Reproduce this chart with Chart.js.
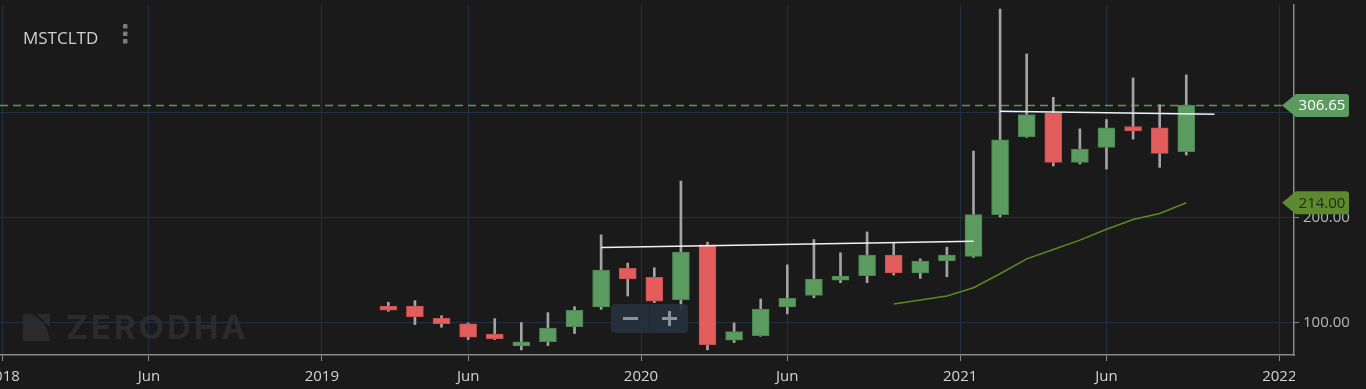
<!DOCTYPE html>
<html>
<head>
<meta charset="utf-8">
<title>MSTCLTD</title>
<script src="https://cdn.jsdelivr.net/npm/chart.js@4.4.0/dist/chart.umd.min.js"></script>
<style>
  html, body { margin: 0; padding: 0; background: #1a1a1a; overflow: hidden; }
  canvas { display: block; }
</style>
</head>
<body>
<canvas id="chart" width="1366" height="389"></canvas>
<script>
// months counted from Jan 2018 = 0
const candleMonths = [14, 15, 16, 17, 18, 19, 20, 21, 22, 23, 24, 25, 26, 27, 28, 29, 30, 31, 32, 33, 34, 35, 36, 37, 38, 39, 40, 41, 42, 43, 44];
const opens  = [115.8, 115.8, 104.2, 98.8, 89.0, 77.9, 82.0, 96.2, 114.9, 151.6, 143.1, 121.8, 174.0, 83.3, 87.7, 114.9, 126.0, 140.5, 144.6, 164.2, 147.4, 158.8, 163.0, 202.8, 276.9, 299.6, 252.5, 266.7, 286.6, 285.4, 262.6];
const highs  = [119.4, 120.9, 106.6, 99.7, 103.8, 100.0, 109.5, 115.2, 183.5, 156.6, 152.2, 234.7, 176.6, 99.7, 122.5, 155.0, 179.1, 166.4, 186.3, 175.9, 160.7, 171.8, 263.2, 398.3, 355.6, 314.4, 284.4, 293.3, 332.8, 307.2, 335.7];
const lows   = [110.8, 98.1, 95.6, 83.9, 83.9, 74.1, 78.2, 89.6, 112.7, 125.3, 119.0, 112.7, 74.1, 81.0, 87.0, 108.3, 123.7, 138.0, 138.0, 145.3, 142.1, 143.6, 162.0, 200.6, 276.2, 249.0, 250.9, 246.1, 274.6, 247.7, 259.4];
const closes = [111.8, 105.7, 99.1, 86.1, 84.8, 81.7, 94.7, 111.8, 150.0, 141.7, 120.3, 167.1, 79.1, 91.5, 113.0, 123.1, 141.5, 144.3, 164.2, 147.4, 158.5, 164.2, 202.8, 274.0, 298.0, 252.5, 265.1, 285.4, 282.5, 261.0, 306.65];

const smaMonths = [33, 34, 35, 36, 37, 38, 39, 40, 41, 42, 43, 44];
const smaValues = [117.7, 121.5, 125.3, 133.2, 146.5, 160.7, 169.6, 178.5, 188.9, 198.1, 203.8, 214.0];

// hand drawn trend lines on the chart
const trendOneMonths = [22, 36];
const trendOneValues = [171.5, 177.5];
const trendTwoMonths = [37, 45.06];
const trendTwoValues = [301.1, 298.3];

const xTickValues = [-0.5, 5, 11.5, 17, 23.5, 29, 35.5, 41, 47.5];
const xTickLabels = ['2018', 'Jun', '2019', 'Jun', '2020', 'Jun', '2021', 'Jun', '2022'];
const yTickValues = [100, 200, 300];

const GREEN = '#5b9b5f';
const RED = '#e35d5d';
const BG = '#1a1a1a';
const GRID = '#213142';
const FONT = '"Open Sans", "Noto Sans", sans-serif';

const bodyColors = closes.map((c, i) => c >= opens[i] ? GREEN : RED);
const bodyBorders = closes.map((c, i) => c >= opens[i] ? '#4c8350' : '#c94f4f');

const extras = {
  id: 'extras',
  beforeDraw(chart) {
    const ctx = chart.ctx;
    ctx.save();
    ctx.fillStyle = BG;
    ctx.fillRect(0, 0, chart.width, chart.height);

    // ZERODHA watermark, sits under the grid
    ctx.fillStyle = '#2b2b2b';
    ctx.beginPath();
    ctx.moveTo(23, 314);
    ctx.lineTo(31, 314);
    ctx.quadraticCurveTo(48, 322, 50, 341);
    ctx.lineTo(23, 341);
    ctx.closePath();
    ctx.fill();
    ctx.beginPath();
    ctx.moveTo(37, 314);
    ctx.lineTo(50, 314);
    ctx.lineTo(50, 327);
    ctx.closePath();
    ctx.fill();
    ctx.font = 'bold 33px Inter, "Open Sans", sans-serif';
    ctx.textBaseline = 'alphabetic';
    ctx.textAlign = 'left';
    const w = ctx.measureText('ZERODHA').width;
    ctx.letterSpacing = Math.max(0, (180 - w) / 6) + 'px';
    ctx.fillText('ZERODHA', 66, 339);
    ctx.restore();
  },
  beforeDatasetsDraw(chart) {
    const ctx = chart.ctx;
    const y = chart.scales.y.getPixelForValue(closes[closes.length - 1]);
    ctx.save();
    ctx.strokeStyle = '#4f9e54';
    ctx.lineWidth = 1.5;
    ctx.setLineDash([8, 5]);
    ctx.beginPath();
    ctx.moveTo(chart.chartArea.left, y);
    ctx.lineTo(1282, y);
    ctx.stroke();
    ctx.restore();
  },
  afterDatasetsDraw(chart) {
    const ctx = chart.ctx;
    ctx.save();
    // zoom buttons
    ctx.fillStyle = 'rgba(37, 49, 61, 0.92)';
    ctx.beginPath();
    ctx.roundRect(611, 304, 77, 29, 4);
    ctx.fill();
    ctx.fillStyle = 'rgba(28, 38, 48, 0.9)';
    ctx.fillRect(649, 305, 1, 27);
    ctx.fillStyle = '#8b9299';
    ctx.fillRect(623, 317, 15, 3);
    ctx.fillRect(662, 317, 15, 3);
    ctx.fillRect(668, 311, 3, 15);
    ctx.restore();
  },
  afterDraw(chart) {
    const ctx = chart.ctx;
    const area = chart.chartArea;
    ctx.save();
    // cut the x labels at the price axis
    ctx.fillStyle = BG;
    ctx.fillRect(area.right + 1, area.bottom + 1, chart.width - area.right, chart.height - area.bottom);

    // title and menu dots
    ctx.fillStyle = '#d0d0d0';
    ctx.font = '17px ' + FONT;
    ctx.textAlign = 'left';
    ctx.textBaseline = 'alphabetic';
    ctx.fillText('MSTCLTD', 23, 44);
    ctx.fillStyle = '#7c7c7c';
    [24, 31.5, 39].forEach(t => {
      ctx.beginPath();
      ctx.roundRect(123, t, 4.5, 4.5, 1);
      ctx.fill();
    });

    // price tags on the axis
    const tag = (value, fill, color) => {
      const y = chart.scales.y.getPixelForValue(value);
      const h = 11.5;
      ctx.fillStyle = fill;
      ctx.beginPath();
      ctx.moveTo(1282, y);
      ctx.lineTo(1296, y - h);
      ctx.lineTo(1346, y - h);
      ctx.quadraticCurveTo(1349, y - h, 1349, y - h + 3);
      ctx.lineTo(1349, y + h - 3);
      ctx.quadraticCurveTo(1349, y + h, 1346, y + h);
      ctx.lineTo(1296, y + h);
      ctx.closePath();
      ctx.fill();
      ctx.fillStyle = color;
      ctx.font = '15px ' + FONT;
      ctx.textAlign = 'center';
      ctx.textBaseline = 'middle';
      ctx.fillText(value.toFixed(2), 1322, y + 0.5);
    };
    tag(closes[closes.length - 1], GREEN, '#ffffff');
    tag(smaValues[smaValues.length - 1], '#5d8a2f', '#1f2a14');
    ctx.restore();
  }
};

new Chart(document.getElementById('chart'), {
  type: 'bar',
  data: {
    datasets: [
      {
        type: 'line',
        data: smaMonths.map((m, i) => ({ x: m, y: smaValues[i] })),
        borderColor: '#5a8a24',
        borderWidth: 1.5,
        pointRadius: 0,
        tension: 0,
        order: 0
      },
      {
        type: 'line',
        data: trendOneMonths.map((m, i) => ({ x: m, y: trendOneValues[i] })),
        borderColor: '#f2f2f2',
        borderWidth: 1.5,
        pointRadius: 0,
        order: 0
      },
      {
        type: 'line',
        data: trendTwoMonths.map((m, i) => ({ x: m, y: trendTwoValues[i] })),
        borderColor: '#f2f2f2',
        borderWidth: 1.5,
        pointRadius: 0,
        order: 0
      },
      {
        // candle bodies
        data: candleMonths.map((m, i) => ({ x: m, y: [opens[i], closes[i]] })),
        backgroundColor: bodyColors,
        borderColor: bodyBorders,
        borderWidth: 1,
        borderSkipped: false,
        barThickness: 17,
        grouped: false,
        order: 1
      },
      {
        // wicks
        data: candleMonths.map((m, i) => ({ x: m, y: [lows[i], highs[i]] })),
        backgroundColor: '#a3a3a3',
        borderWidth: 0,
        barThickness: 2,
        grouped: false,
        order: 2
      }
    ]
  },
  options: {
    responsive: false,
    devicePixelRatio: 1,
    animation: false,
    events: [],
    layout: { padding: { top: 5, left: 0, right: 0, bottom: 0 }, autoPadding: false },
    plugins: { legend: { display: false }, tooltip: { enabled: false } },
    scales: {
      x: {
        type: 'linear',
        min: -0.6,
        max: 48.05,
        offset: false,
        grid: { color: GRID, tickColor: '#8a8a8a', tickLength: 6, offset: false },
        border: { color: '#8a8a8a', width: 1.5 },
        ticks: {
          color: '#d4d4d4',
          font: { size: 15, family: FONT },
          padding: 7,
          autoSkip: false,
          maxRotation: 0,
          callback: v => xTickLabels[xTickValues.indexOf(v)]
        },
        afterBuildTicks: s => { s.ticks = xTickValues.map(v => ({ value: v })); },
        afterFit: s => { s.height = 34; s.paddingLeft = 0; s.paddingRight = 0; }
      },
      y: {
        position: 'right',
        min: 69.2,
        max: 402.2,
        grid: { color: GRID, tickColor: '#8a8a8a', tickLength: 5 },
        border: { color: '#8a8a8a', width: 1.5 },
        ticks: {
          color: '#b8b8b8',
          font: { size: 15, family: FONT },
          padding: 4,
          callback: v => v.toFixed(2)
        },
        afterBuildTicks: s => { s.ticks = yTickValues.map(v => ({ value: v })); },
        afterFit: s => { s.width = 72; s.paddingTop = 0; s.paddingBottom = 0; }
      }
    }
  },
  plugins: [extras]
});
</script>
</body>
</html>
